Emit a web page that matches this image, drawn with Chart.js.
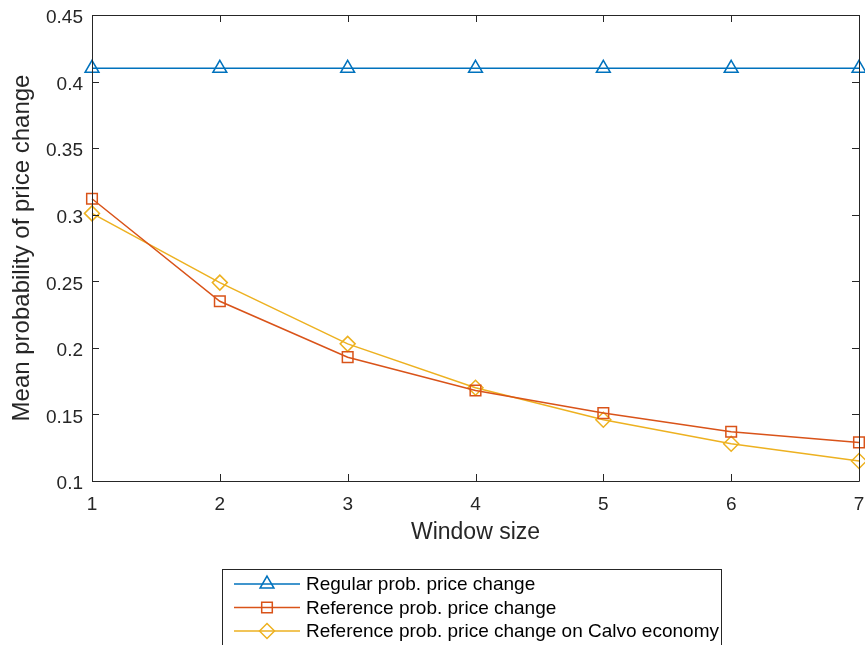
<!DOCTYPE html>
<html>
<head>
<meta charset="utf-8">
<script src="https://cdn.jsdelivr.net/npm/chart.js@4/dist/chart.umd.min.js"></script>
<style>
  html, body { margin: 0; padding: 0; background: #fff; }
  #wrap { width: 865px; height: 645px; }
</style>
</head>
<body>
<div id="wrap"><canvas id="chart1" width="865" height="645"></canvas></div>
<script>
// data
const windowSize = [1, 2, 3, 4, 5, 6, 7];
const regularProb = [0.41, 0.41, 0.41, 0.41, 0.41, 0.41, 0.41];
const referenceProb = [0.312, 0.235, 0.193, 0.168, 0.151, 0.137, 0.129];
const calvoProb = [0.301, 0.249, 0.203, 0.170, 0.146, 0.128, 0.115];
const seriesNames = ['Regular prob. price change', 'Reference prob. price change', 'Reference prob. price change on Calvo economy'];
const xTicks = [1, 2, 3, 4, 5, 6, 7];
const yTicks = [0.1, 0.15, 0.2, 0.25, 0.3, 0.35, 0.4, 0.45];
const yTickLabels = ['0.1', '0.15', '0.2', '0.25', '0.3', '0.35', '0.4', '0.45'];

const axisColor = '#262626';
const fontFamily = '"Liberation Sans", Arial, sans-serif';

function toPoints(vals) {
  return vals.map((v, i) => ({x: windowSize[i], y: v}));
}

// MATLAB style box with inward ticks
const boxPlugin = {
  id: 'box',
  afterDraw(chart) {
    const ctx = chart.ctx, a = chart.chartArea;
    const xs = chart.scales.x, ys = chart.scales.y;
    const tl = 7;
    ctx.save();
    ctx.strokeStyle = axisColor;
    ctx.lineWidth = 1;
    ctx.beginPath();
    ctx.rect(Math.round(a.left) + 0.5, Math.round(a.top) + 0.5, Math.round(a.right - a.left), Math.round(a.bottom - a.top));
    xTicks.forEach(v => {
      const px = Math.round(xs.getPixelForValue(v)) + 0.5;
      ctx.moveTo(px, a.bottom); ctx.lineTo(px, a.bottom - tl);
      ctx.moveTo(px, a.top); ctx.lineTo(px, a.top + tl);
    });
    yTicks.forEach(v => {
      const py = Math.round(ys.getPixelForValue(v)) + 0.5;
      ctx.moveTo(a.left, py); ctx.lineTo(a.left + tl, py);
      ctx.moveTo(a.right, py); ctx.lineTo(a.right - tl, py);
    });
    ctx.stroke();
    ctx.restore();
  }
};

// legend box under the axes
const legendPlugin = {
  id: 'matlabLegend',
  afterDraw(chart) {
    const ctx = chart.ctx;
    const left = 222, top = 569, w = 499, rowH = 23.5;
    ctx.save();
    ctx.fillStyle = '#fff';
    ctx.strokeStyle = axisColor;
    ctx.lineWidth = 1;
    ctx.fillRect(left, top, w, 90);
    ctx.strokeRect(left + 0.5, top + 0.5, w, 90);
    ctx.font = '19px ' + fontFamily;
    ctx.textBaseline = 'middle';
    chart.data.datasets.forEach((ds, i) => {
      const y = top + 15 + i * rowH;
      ctx.strokeStyle = ds.borderColor;
      ctx.lineWidth = ds.borderWidth;
      ctx.beginPath();
      ctx.moveTo(left + 12, y); ctx.lineTo(left + 78, y);
      ctx.stroke();
      ctx.fillStyle = 'rgba(0,0,0,0)';
      Chart.helpers.drawPoint(ctx, {pointStyle: ds.pointStyle, radius: ds.pointRadius, rotation: 0, borderWidth: ds.pointBorderWidth}, left + 45, y);
      ctx.fillStyle = '#000';
      ctx.fillText(ds.label, left + 84, y + 1);
    });
    ctx.restore();
  }
};

function makeSet(label, vals, color, style, r) {
  return {
    label: label,
    data: toPoints(vals),
    borderColor: color,
    backgroundColor: color,
    borderWidth: 1.5,
    pointStyle: style,
    pointRadius: r,
    pointHoverRadius: r,
    pointBorderColor: color,
    pointBackgroundColor: 'rgba(0,0,0,0)',
    pointBorderWidth: 1.5,
    tension: 0,
    clip: false
  };
}

const chart1 = document.getElementById('chart1');
new Chart(chart1, {
  type: 'line',
  data: {
    datasets: [
      makeSet(seriesNames[0], regularProb, '#0072BD', 'triangle', 8),
      makeSet(seriesNames[1], referenceProb, '#D95319', 'rect', 7.5),
      makeSet(seriesNames[2], calvoProb, '#EDB120', 'rectRot', 7.5)
    ]
  },
  options: {
    responsive: false,
    animation: false,
    layout: { autoPadding: false, padding: { left: 0, top: 15, right: 6, bottom: 94 } },
    plugins: { legend: { display: false }, tooltip: { enabled: false } },
    scales: {
      x: {
        type: 'linear',
        min: 1, max: 7,
        grid: { display: false, drawTicks: false },
        border: { display: false },
        afterBuildTicks: s => { s.ticks = xTicks.map(v => ({value: v})); },
        afterFit: s => { s.height = 70; s.paddingLeft = 0; s.paddingRight = 0; },
        ticks: { color: axisColor, padding: 12, maxRotation: 0, font: { family: fontFamily, size: 19 } },
        title: { display: true, text: 'Window size', color: axisColor, padding: { top: 0, bottom: 5 }, font: { family: fontFamily, size: 23 } }
      },
      y: {
        min: 0.1, max: 0.45,
        grid: { display: false, drawTicks: false },
        border: { display: false },
        afterBuildTicks: s => { s.ticks = yTicks.map(v => ({value: v})); },
        afterFit: s => { s.width = 92; s.paddingTop = 0; s.paddingBottom = 0; },
        ticks: {
          color: axisColor, padding: 9, labelOffset: 3,
          font: { family: fontFamily, size: 19 },
          callback: v => yTickLabels[yTicks.findIndex(t => Math.abs(t - v) < 1e-9)]
        },
        title: { display: true, text: 'Mean probability of price change', color: axisColor, padding: { top: 8, bottom: 0 }, font: { family: fontFamily, size: 24 } }
      }
    }
  },
  plugins: [boxPlugin, legendPlugin]
});
</script>
</body>
</html>
